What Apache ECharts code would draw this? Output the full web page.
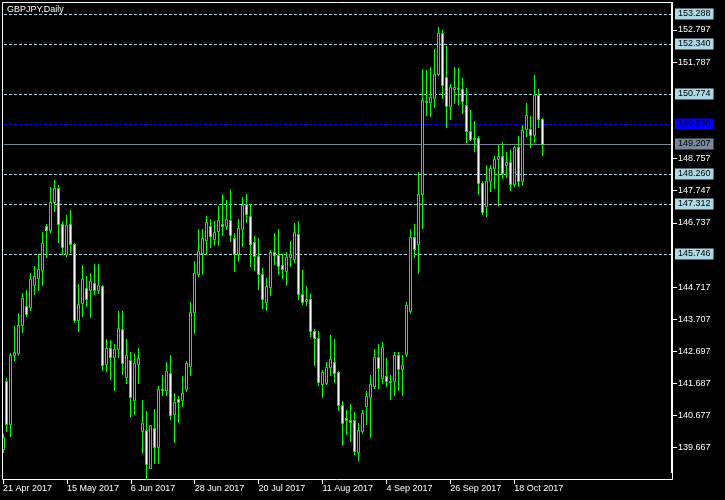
<!DOCTYPE html>
<html><head><meta charset="utf-8">
<script src="https://cdn.jsdelivr.net/npm/echarts@6/dist/echarts.min.js"></script>
<style>html,body{margin:0;padding:0;background:#000;}#c{width:725px;height:500px;}</style>
</head><body><div id="c"></div>
<script>
const chartTitle = 'GBPJPY,Daily';
const opens = [139.60,141.76,140.40,142.55,142.63,143.52,144.12,144.07,144.78,144.98,
145.25,146.63,146.48,147.36,147.82,146.69,145.75,146.69,146.04,143.68,
144.21,144.68,144.62,144.83,144.60,144.73,142.27,142.79,142.50,142.76,
143.39,141.87,142.42,141.14,142.29,140.17,140.22,139.02,140.28,139.67,
141.51,141.46,142.01,140.70,141.17,141.14,141.50,142.21,143.92,145.12,
145.78,146.19,146.63,146.22,146.46,146.69,146.61,146.81,146.25,145.75,
146.51,147.32,146.93,146.11,145.67,145.12,144.22,144.70,145.81,145.70,
145.38,145.20,145.64,145.57,146.38,144.49,144.26,144.31,143.33,143.11,
141.66,141.69,142.18,142.35,142.02,140.99,140.57,140.51,140.51,139.51,
140.17,140.96,141.24,141.58,142.51,141.85,141.90,141.76,141.74,142.55,
142.13,142.60,143.94,146.28,146.04,147.63,150.54,150.51,150.65,151.40,
152.67,151.31,150.38,150.94,150.96,150.93,150.41,149.62,149.37,149.37,
147.98,147.24,148.03,148.45,148.71,148.83,148.53,148.64,147.95,149.11,
148.03,149.67,149.67,149.49,150.75,149.97];
const closes = [140.00,140.40,142.58,142.67,143.52,144.36,143.84,144.94,145.06,145.28,
146.10,146.49,147.36,147.82,146.69,145.96,146.66,146.06,143.68,144.18,
144.94,144.31,144.88,144.60,144.75,142.24,142.79,142.50,142.76,143.40,
142.32,142.55,141.24,142.32,142.48,140.43,139.15,140.35,139.67,141.51,
141.46,142.06,140.67,141.09,141.09,141.36,142.32,143.92,145.15,145.84,
146.25,146.75,146.32,146.44,146.81,146.61,146.85,146.33,145.75,146.56,
147.29,147.00,146.06,145.67,145.12,144.33,144.73,145.81,145.70,145.36,
145.27,145.65,145.75,146.44,144.47,144.22,144.34,143.31,143.11,141.71,
142.02,142.19,142.45,142.01,140.99,140.43,140.52,140.45,139.54,140.22,
140.75,141.29,141.66,142.51,142.16,142.82,141.74,141.72,142.55,142.13,
142.24,144.15,146.28,145.90,147.63,150.59,150.51,150.67,151.41,152.67,
151.04,150.38,150.98,150.99,150.91,150.54,149.60,149.36,149.34,147.98,
147.05,148.03,148.45,148.71,148.83,148.27,148.64,147.95,149.11,148.03,
149.65,150.12,149.49,150.75,149.97,149.207];
const lows = [139.51,140.17,140.01,142.42,142.55,143.28,143.78,143.99,144.47,144.62,
144.78,145.64,146.42,147.08,146.11,145.75,145.69,145.80,143.60,143.31,
143.78,144.10,143.75,144.47,144.52,142.09,142.06,141.80,141.45,142.50,
141.98,141.69,140.66,140.70,141.69,139.47,138.69,139.00,139.18,139.16,
141.32,141.32,140.56,139.82,140.45,140.96,141.43,141.93,143.26,145.06,
145.10,145.75,145.96,146.01,146.01,146.35,146.51,146.14,145.22,145.51,
145.98,146.74,145.36,145.23,144.65,144.03,143.99,144.44,145.44,145.10,
144.97,144.78,145.36,145.50,144.31,144.18,144.15,143.16,142.24,141.61,
141.24,141.64,141.95,141.71,140.83,139.75,140.07,139.86,139.44,139.26,
140.10,140.41,139.98,141.53,141.53,141.69,141.58,141.17,141.32,141.45,
141.32,142.53,143.87,145.64,145.15,146.56,150.12,150.09,150.37,151.35,
150.63,149.72,149.97,150.49,150.44,150.18,149.25,149.32,148.99,147.64,
147.01,146.93,147.71,147.82,147.27,148.13,148.17,147.74,147.87,147.87,
147.95,149.44,149.11,149.25,149.74,148.84];
const highs = [140.07,141.83,142.64,143.49,143.87,144.50,144.62,145.13,145.36,145.75,
146.42,146.67,147.85,148.08,147.92,146.79,146.98,147.11,146.09,144.81,
145.38,145.06,145.13,145.41,145.44,144.75,143.08,143.05,142.90,143.94,
143.94,143.08,142.65,142.63,142.77,141.14,140.80,140.38,140.88,141.58,
141.95,142.33,142.55,141.38,141.29,141.90,142.37,144.22,145.51,146.51,
146.54,146.93,146.85,146.79,147.26,147.61,147.45,147.77,146.41,146.85,
147.54,147.61,147.32,146.32,146.25,145.31,144.99,145.88,146.41,146.53,
145.75,145.81,146.16,146.72,146.79,145.25,144.73,144.47,143.37,143.33,
142.08,142.33,143.18,143.08,142.06,141.11,140.85,141.04,140.78,140.43,
140.85,141.43,141.95,142.76,142.90,142.98,142.48,141.95,142.67,142.67,
142.55,144.22,146.54,146.67,148.32,151.54,151.51,151.61,152.17,152.87,
152.77,152.27,151.07,151.61,151.57,151.28,150.96,150.26,149.91,149.46,
148.03,148.55,148.53,148.83,149.15,149.27,148.95,149.05,149.13,149.44,
149.78,150.49,150.07,151.38,150.91,150.02];
const tickLabels = ['21 Apr 2017','15 May 2017','6 Jun 2017','28 Jun 2017','20 Jul 2017',
  '11 Aug 2017','4 Sep 2017','26 Sep 2017','18 Oct 2017'];
const tickBars = [0, 16, 32, 48, 64, 80, 96, 112, 128];
const priceTicks = [139.667,140.677,141.687,142.697,143.707,144.717,146.737,147.747,148.757,151.787,152.797];
const levelLines = [153.288,152.340,150.774,148.260,147.312,145.746];
const blueLine = 149.826;
const bidLine = 149.207;
const priceMin = 138.684, priceMax = 153.675;
const barSlots = 167.5;

const GREEN = '#00ff00';
const FONT = 'Liberation Sans';
const candles = opens.map((o, i) => [i, o, closes[i], lows[i], highs[i]]);

const levels = levelLines.map(v => [v, '#add8e6', '#000000', 'dash'])
  .concat([[blueLine, '#0000ff', '#00002a', 'dash'], [bidLine, '#778899', '#000000', 'solid']]);

function renderCandle(params, api) {
  const i = api.value(0), o = api.value(1), c = api.value(2), l = api.value(3), h = api.value(4);
  const pO = api.coord([i, o]), pC = api.coord([i, c]);
  const pL = api.coord([i, l]), pH = api.coord([i, h]);
  const x = Math.floor(pO[0]) + 0.5;
  const yo = Math.floor(pO[1]), yc = Math.floor(pC[1]);
  const top = Math.min(yo, yc) + 0.5, bot = Math.max(yo, yc) + 0.5;
  const yH = Math.floor(pH[1]), yL = Math.floor(pL[1]);
  const bull = c >= o;
  return {
    type: 'group',
    children: [
      { type: 'line', shape: { x1: x, y1: yH, x2: x, y2: yL + 1 },
        style: { stroke: GREEN, lineWidth: 1 } },
      { type: 'rect', shape: { x: x - 1, y: top, width: 2, height: bot - top },
        style: { fill: bull ? '#000' : '#fff', stroke: GREEN, lineWidth: 1 } }
    ]
  };
}

function renderLevel(params, api) {
  const v = api.value(0);
  const d = levels[params.dataIndex];
  const cs = params.coordSys;
  const y = Math.floor(api.coord([0, v])[1]) + 0.5;
  return {
    type: 'group',
    children: [
      { type: 'line', shape: { x1: cs.x + 1, y1: y, x2: cs.x + cs.width, y2: y },
        style: { stroke: d[1], lineWidth: 1, lineDash: d[3] === 'dash' ? [3, 2] : null } },
      { type: 'text', x: cs.x + cs.width + 3, y: y - 0.5,
        style: { text: v.toFixed(3), fill: d[2], backgroundColor: d[1],
          font: '9px "' + FONT + '"', verticalAlign: 'middle', align: 'left',
          padding: [1, 3, 1, 3], lineHeight: 9 } }
    ]
  };
}

const chart = echarts.init(document.getElementById('c'), null, { renderer: 'canvas' });
chart.setOption({
  animation: false,
  backgroundColor: '#000',
  graphic: [
    { type: 'text', left: 7, top: 5, z: 100,
      style: { text: chartTitle, fill: '#fff', font: '9px "Liberation Sans"' } },
    { type: 'rect', z: 100, silent: true,
      shape: { x: 2.5, y: 2.5, width: 670, height: 477 },
      style: { stroke: '#fff', fill: null, lineWidth: 1 } },
    { type: 'line', z: 100, silent: true,
      shape: { x1: 672, y1: 2, x2: 672, y2: 473 },
      style: { stroke: '#fff', lineWidth: 2 } }
  ],
  grid: { left: 2, top: 2, width: 670, height: 477, show: false },
  xAxis: {
    type: 'value', min: 0, max: barSlots, position: 'bottom',
    axisLine: { show: false, onZero: false },
    axisTick: { show: true, customValues: tickBars, length: 5, lineStyle: { color: '#fff' } },
    axisLabel: {
      show: true, customValues: tickBars, align: 'left', margin: 5,
      color: '#fff', fontFamily: FONT, fontSize: 9,
      formatter: (v) => tickLabels[tickBars.indexOf(Math.round(v))] || ''
    },
    splitLine: { show: false }
  },
  yAxis: {
    type: 'value', position: 'right', min: priceMin, max: priceMax,
    axisLine: { show: false, onZero: false },
    axisTick: { show: true, customValues: priceTicks, length: 5, lineStyle: { color: '#fff' } },
    axisLabel: {
      show: true, customValues: priceTicks, margin: 6, color: '#fff',
      fontFamily: FONT, fontSize: 9, formatter: (v) => Number(v).toFixed(3)
    },
    splitLine: { show: false }
  },
  series: [
    { type: 'custom', name: 'levels', z: 1, clip: false, silent: true,
      data: levels.map(d => [d[0]]), encode: { y: 0 },
      renderItem: renderLevel },
    { type: 'custom', name: 'GBPJPY', z: 2, clip: true, silent: true,
      data: candles, encode: { x: 0, y: [1, 2, 3, 4] },
      renderItem: renderCandle }
  ]
});
</script></body></html>
